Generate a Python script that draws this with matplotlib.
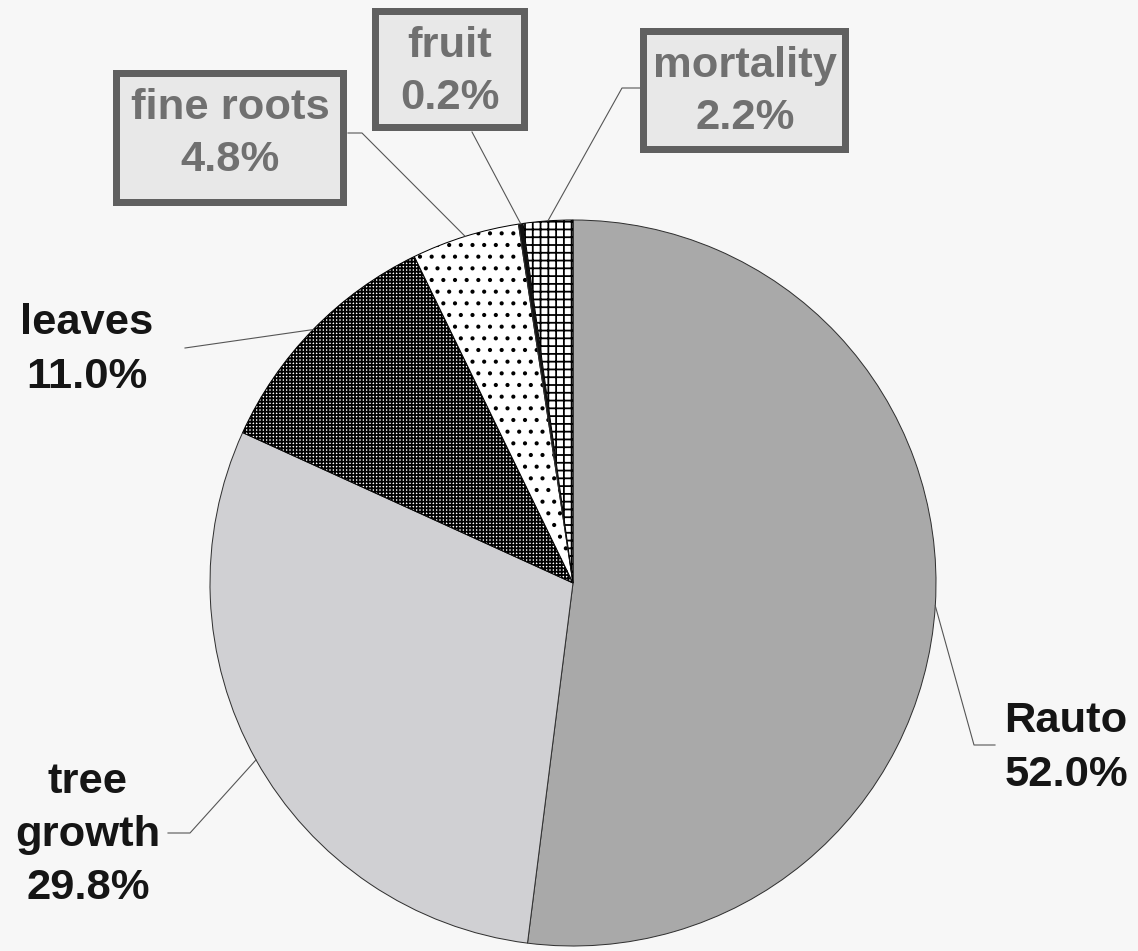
import matplotlib.pyplot as plt
from matplotlib.patches import Rectangle
import numpy as np

# data
labels = ['Rauto', 'tree\ngrowth', 'leaves', 'fine roots', 'fruit', 'mortality']
shares = [52.0, 29.8, 11.0, 4.8, 0.2, 2.2]
colors = ['#a9a9a9', '#d0d0d3', 'white', 'white', '#111111', 'white']
hatches = [None, None, '+++++++', '..', None, '+++']
boxed = [False, False, False, True, True, True]

DPI = 140
W, H = 1138, 951
px = 72.0 / DPI  # one pixel in points

plt.rcParams['font.family'] = ['Liberation Sans', 'DejaVu Sans']
plt.rcParams['hatch.linewidth'] = 1.8 * px

fig = plt.figure(figsize=(W / DPI, H / DPI), dpi=DPI, facecolor='#f7f7f7')
ax = fig.add_axes([0, 0, 1, 1])
ax.set_facecolor('#f7f7f7')

cx, cy, R = 573, H - 583, 363
wedges, _ = ax.pie(shares, colors=colors, startangle=90, counterclock=False,
                   center=(cx, cy), radius=R,
                   wedgeprops=dict(edgecolor='#303030', linewidth=1.0 * px))
for w, h in zip(wedges, hatches):
    if h:
        w.set_hatch(h)
        w.set_edgecolor('black')

ax.set_xlim(0, W)
ax.set_ylim(0, H)
ax.axis('off')

# label layout in image pixel coords (x, y from top)
text_pos = [(1066, 748), (88, 835), (87, 350), (230, 134), (450, 72), (745, 92)]
leader_pts = [
    [(974, 745), (995, 745)],
    [(190, 833), (168, 833)],
    [(185, 348)],
    [(362, 133), (348, 133)],
    [(472, 132)],
    [(622, 88), (640, 88)],
]
box_rects = {3: (113, 69, 347, 205), 4: (372, 7, 528, 130), 5: (640, 27, 849, 152)}

fs = 43.5 * px
for i, w in enumerate(wedges):
    mid = np.deg2rad((w.theta1 + w.theta2) / 2)
    ax_, ay_ = cx + R * np.cos(mid), cy + R * np.sin(mid)
    xs = [ax_] + [p[0] for p in leader_pts[i]]
    ys = [ay_] + [H - p[1] for p in leader_pts[i]]
    ax.plot(xs, ys, color='#555555', lw=1.1 * px, zorder=1)

    tx, ty = text_pos[i]
    txt = f'{labels[i]}\n{shares[i]:.1f}%'
    if boxed[i]:
        x0, y0, x1, y1 = box_rects[i]
        b = 7
        ax.add_patch(Rectangle((x0 + b / 2, H - y1 + b / 2), x1 - x0 - b, y1 - y0 - b,
                               facecolor='#e8e8e8', edgecolor='#606060',
                               linewidth=b * px, zorder=3))
        ax.text(tx, H - ty, txt, ha='center', va='center', fontsize=fs,
                fontweight='bold', color='#707070', linespacing=1.37, zorder=4)
    else:
        ax.text(tx, H - ty, txt, ha='center', va='center', fontsize=fs,
                fontweight='bold', color='#151515', linespacing=1.42, zorder=4)

fig.savefig('out.png', dpi=DPI, facecolor=fig.get_facecolor())
